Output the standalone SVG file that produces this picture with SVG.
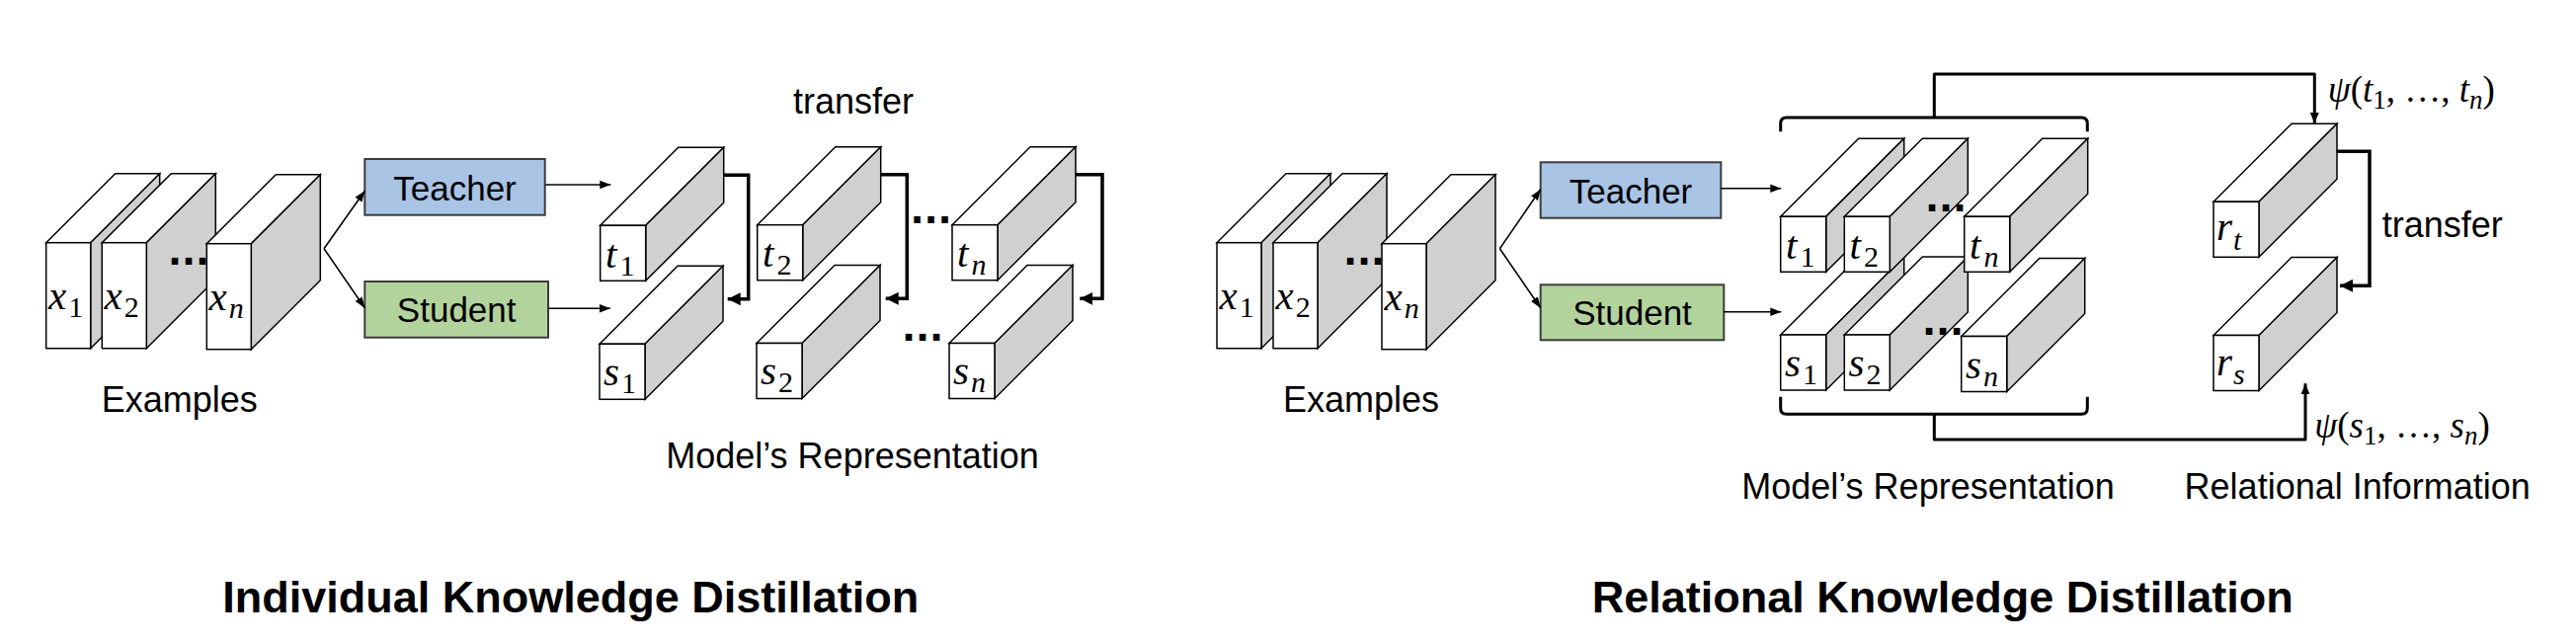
<svg xmlns="http://www.w3.org/2000/svg" width="2608" height="652" viewBox="0 0 2608 652">
<style>
  .face { fill: #ffffff; stroke: #000; stroke-width: 1.5; stroke-linejoin: miter; }
  .side { fill: #d0d0d0; stroke: #000; stroke-width: 1.5; stroke-linejoin: miter; }
  .teacher { fill: #a9c4e5; stroke: #3c3c3c; stroke-width: 2; }
  .student { fill: #b3d39d; stroke: #3c3c3c; stroke-width: 2; }
  .lbl { font-family: "Liberation Sans", Arial, sans-serif; font-size: 36px; fill: #000; }
  .box { font-family: "Liberation Sans", Arial, sans-serif; font-size: 35px; fill: #000; text-anchor: middle; }
  .title { font-family: "Liberation Sans", Arial, sans-serif; font-size: 45px; font-weight: bold; fill: #000; text-anchor: middle; }
  .math { font-family: "Liberation Serif", "Times New Roman", serif; font-size: 41px; font-style: italic; fill: #000; }
  .sub { font-size: 30px; }
  .up { font-style: normal; }
  .psi { font-family: "Liberation Serif", "Times New Roman", serif; font-size: 37px; fill: #000; }
  .dots { font-family: "DejaVu Sans", sans-serif; font-size: 37px; font-weight: bold; fill: #000; text-anchor: middle; }
  .thin { fill: none; stroke: #000; stroke-width: 1.6; }
  .thick { fill: none; stroke: #000; stroke-width: 3.5; }
  .mid { fill: none; stroke: #000; stroke-width: 3; stroke-linejoin: round; }
</style>
<defs>
  <g id="exblock">
    <polygon class="face" points="0,0 45,0 115,-70 70,-70"/>
    <polygon class="side" points="45,0 115,-70 115,37 45,107"/>
    <rect class="face" x="0" y="0" width="45" height="107"/>
  </g>
  <g id="repblock">
    <polygon class="face" points="0,0 46,0 125,-79 79,-79"/>
    <polygon class="side" points="46,0 125,-79 125,-23 46,56"/>
    <rect class="face" x="0" y="0" width="46" height="56"/>
  </g>
  <marker id="ahThin" markerUnits="userSpaceOnUse" markerWidth="12" markerHeight="10" viewBox="0 0 12 10" refX="11" refY="5" orient="auto">
    <path d="M0,0.8 L11,5 L0,9.2 Z" fill="#000"/>
  </marker>
  <marker id="ahThick" markerUnits="userSpaceOnUse" markerWidth="14" markerHeight="14" viewBox="0 0 14 14" refX="13" refY="7" orient="auto">
    <path d="M0,0.5 L13,7 L0,13.5 Z" fill="#000"/>
  </marker>
  <marker id="ahMid" markerUnits="userSpaceOnUse" markerWidth="12" markerHeight="10" viewBox="0 0 12 10" refX="11" refY="5" orient="auto">
    <path d="M0,0.5 L11,5 L0,9.5 Z" fill="#000"/>
  </marker>
</defs>

<!-- ============ LEFT: Individual KD ============ -->
<g id="left-examples">
  <g id="L-x1"><use href="#exblock" x="46.7" y="245.7"/>
    <text class="math" x="49" y="312.7">x<tspan class="sub up" dx="2" dy="8">1</tspan></text></g>
  <g id="L-x2"><use href="#exblock" x="103.3" y="245.7"/>
    <text class="math" x="105.5" y="312.7">x<tspan class="sub up" dx="2" dy="8">2</tspan></text></g>
  <text class="dots" x="191" y="267.5">...</text>
  <g id="L-xn"><use href="#exblock" x="209.3" y="246.7"/>
    <text class="math" x="211.5" y="313.7">x<tspan class="sub" dx="2" dy="8">n</tspan></text></g>
  <text class="lbl" x="181.7" y="416.7" text-anchor="middle">Examples</text>
</g>

<g id="L-teacher">
  <rect class="teacher" x="369.3" y="161" width="182.4" height="56.7"/>
  <text class="box" x="460.5" y="203.3">Teacher</text>
</g>
<g id="L-student">
  <rect class="student" x="369.3" y="285" width="185.7" height="56.7"/>
  <text class="box" x="462.2" y="325.7">Student</text>
</g>

<g id="L-reps">
  <g id="L-s1"><use href="#repblock" x="607" y="348.3"/>
    <text class="math" x="611" y="390">s<tspan class="sub up" dx="2" dy="8">1</tspan></text></g>
  <g id="L-s2"><use href="#repblock" x="766" y="347.5"/>
    <text class="math" x="770" y="389.2">s<tspan class="sub up" dx="2" dy="8">2</tspan></text></g>
  <g id="L-sn"><use href="#repblock" x="961" y="347.5"/>
    <text class="math" x="965" y="389.2">s<tspan class="sub" dx="2" dy="8">n</tspan></text></g>
  <g id="L-t1"><use href="#repblock" x="607.7" y="228.3"/>
    <text class="math" x="613" y="270.7">t<tspan class="sub up" dx="3" dy="8">1</tspan></text></g>
  <g id="L-t2"><use href="#repblock" x="766.7" y="227.7"/>
    <text class="math" x="772" y="270">t<tspan class="sub up" dx="3" dy="8">2</tspan></text></g>
  <g id="L-tn"><use href="#repblock" x="964" y="227.7"/>
    <text class="math" x="969" y="270">t<tspan class="sub" dx="3" dy="8">n</tspan></text></g>
  <text class="dots" x="942.5" y="226">...</text>
  <text class="dots" x="934" y="344.5">...</text>
  <text class="lbl" x="864" y="115" text-anchor="middle">transfer</text>
  <text class="lbl" x="863" y="474" text-anchor="middle">Model’s Representation</text>
</g>

<g id="L-connectors">
  <path class="thin" d="M328,251.7 L369.3,193.3" marker-end="url(#ahThin)"/>
  <path class="thin" d="M328,251.7 L369.3,311.7" marker-end="url(#ahThin)"/>
  <path class="thin" d="M552,187 H618.3" marker-end="url(#ahThin)"/>
  <path class="thin" d="M555,312.3 H618" marker-end="url(#ahThin)"/>
  <path class="thick" d="M732.3,177.3 H757.7 V302.7 H736.7" marker-end="url(#ahThick)"/>
  <path class="thick" d="M891.7,176.7 H918.3 V302.3 H896.7" marker-end="url(#ahThick)"/>
  <path class="thick" d="M1089,176.7 H1116 V302.3 H1093.3" marker-end="url(#ahThick)"/>
</g>

<text id="L-title" class="title" x="577.7" y="620">Individual Knowledge Distillation</text>

<!-- ============ RIGHT: Relational KD ============ -->
<g id="right-examples">
  <g id="R-x1"><use href="#exblock" x="1232" y="245.7"/>
    <text class="math" x="1234.5" y="312.7">x<tspan class="sub up" dx="2" dy="8">1</tspan></text></g>
  <g id="R-x2"><use href="#exblock" x="1289" y="245.7"/>
    <text class="math" x="1291.5" y="312.7">x<tspan class="sub up" dx="2" dy="8">2</tspan></text></g>
  <text class="dots" x="1381" y="267.8">...</text>
  <g id="R-xn"><use href="#exblock" x="1399" y="246.7"/>
    <text class="math" x="1401.5" y="313.7">x<tspan class="sub" dx="2" dy="8">n</tspan></text></g>
  <text class="lbl" x="1378" y="416.7" text-anchor="middle">Examples</text>
</g>

<g id="R-teacher">
  <rect class="teacher" x="1559.7" y="164.3" width="182.6" height="56.4"/>
  <text class="box" x="1651" y="206.3">Teacher</text>
</g>
<g id="R-student">
  <rect class="student" x="1559.7" y="288.3" width="185.6" height="56"/>
  <text class="box" x="1652.5" y="328.5">Student</text>
</g>

<g id="R-reps">
  <g id="R-s1"><use href="#repblock" x="1802.7" y="339"/>
    <text class="math" x="1807" y="381">s<tspan class="sub up" dx="2" dy="8">1</tspan></text></g>
  <g id="R-s2"><use href="#repblock" x="1867.3" y="339"/>
    <text class="math" x="1871.5" y="381">s<tspan class="sub up" dx="2" dy="8">2</tspan></text></g>
  <g id="R-sn"><use href="#repblock" x="1985.7" y="340.5"/>
    <text class="math" x="1990" y="382.5">s<tspan class="sub" dx="2" dy="8">n</tspan></text></g>
  <text class="dots" x="1967" y="338.5">...</text>
  <g id="R-t1"><use href="#repblock" x="1802.7" y="219.3"/>
    <text class="math" x="1808" y="261.7">t<tspan class="sub up" dx="3" dy="8">1</tspan></text></g>
  <g id="R-t2"><use href="#repblock" x="1867.3" y="219.3"/>
    <text class="math" x="1872.5" y="261.7">t<tspan class="sub up" dx="3" dy="8">2</tspan></text></g>
  <text class="dots" x="1970" y="214.2">...</text>
  <g id="R-tn"><use href="#repblock" x="1988.7" y="219.3"/>
    <text class="math" x="1994" y="261.7">t<tspan class="sub" dx="3" dy="8">n</tspan></text></g>
  <text class="lbl" x="1952" y="505" text-anchor="middle">Model’s Representation</text>
</g>

<g id="R-rel">
  <g id="R-rt"><use href="#repblock" x="2241" y="204.3"/>
    <text class="math" x="2244" y="243.3">r<tspan class="sub" dx="1" dy="10">t</tspan></text></g>
  <g id="R-rs"><use href="#repblock" x="2241" y="339.5"/>
    <text class="math" x="2244" y="380">r<tspan class="sub" dx="1" dy="9">s</tspan></text></g>
  <text class="lbl" x="2411.7" y="240">transfer</text>
  <text class="lbl" x="2386.7" y="505" text-anchor="middle">Relational Information</text>
  <text class="psi" x="2356.7" y="103.3"><tspan font-style="italic">ψ</tspan>(<tspan font-style="italic">t</tspan><tspan font-size="27" dy="7">1</tspan><tspan dy="-7">, …, </tspan><tspan font-style="italic">t</tspan><tspan font-size="27" font-style="italic" dy="7">n</tspan><tspan dy="-7">)</tspan></text>
  <text class="psi" x="2343.3" y="443.3"><tspan font-style="italic">ψ</tspan>(<tspan font-style="italic">s</tspan><tspan font-size="27" dy="7">1</tspan><tspan dy="-7">, …, </tspan><tspan font-style="italic">s</tspan><tspan font-size="27" font-style="italic" dy="7">n</tspan><tspan dy="-7">)</tspan></text>
</g>

<g id="R-connectors">
  <path class="thin" d="M1518.4,251.7 L1559.7,191.7" marker-end="url(#ahThin)"/>
  <path class="thin" d="M1518.4,251.7 L1559.7,311.7" marker-end="url(#ahThin)"/>
  <path class="thin" d="M1742.3,190.7 H1803.3" marker-end="url(#ahThin)"/>
  <path class="thin" d="M1745.3,315.7 H1803.3" marker-end="url(#ahThin)"/>
  <path class="mid" d="M1802.7,133.3 V125 Q1802.7,119 1808.7,119 H2107.3 Q2113.3,119 2113.3,125 V133.3"/>
  <path class="mid" d="M1958.3,119 V75 H2343.3 V125" marker-end="url(#ahMid)"/>
  <path class="mid" d="M1802.7,401.7 V413.3 Q1802.7,419.3 1808.7,419.3 H2107.3 Q2113.3,419.3 2113.3,413.3 V401.7"/>
  <path class="mid" d="M1958.3,419.3 V445 H2334 V388.3" marker-end="url(#ahMid)"/>
  <path class="thick" d="M2365.7,153.3 H2399 V289.3 H2369" marker-end="url(#ahThick)"/>
</g>

<text id="R-title" class="title" x="1966.7" y="620">Relational Knowledge Distillation</text>
</svg>
